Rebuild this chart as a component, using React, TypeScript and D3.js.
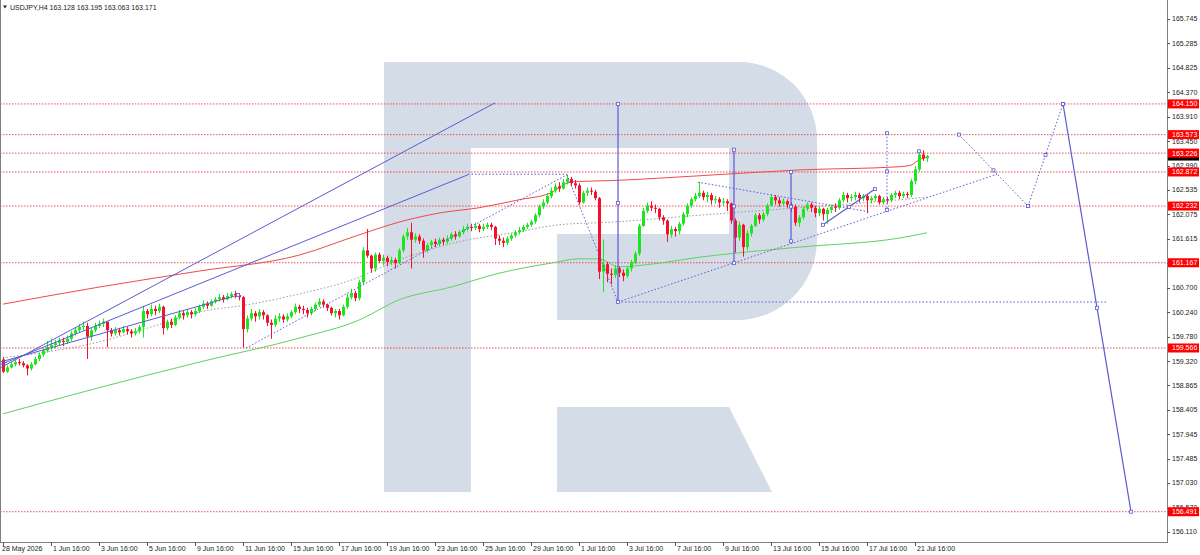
import React from 'react';
import * as d3 from 'd3';

// USDJPY H4 — candles are [high, low, close]; each bar opens at the previous close
const firstOpen = 159.35;
const lastOpen = 163.128;
const bars: [number, number, number][] = [
  [159.40, 159.10, 159.12], [159.24, 159.10, 159.20], [159.30, 159.18, 159.26], [159.34, 159.22, 159.30],
  [159.36, 159.24, 159.28], [159.32, 159.20, 159.24], [159.26, 159.05, 159.18], [159.30, 159.14, 159.26],
  [159.40, 159.24, 159.36], [159.48, 159.32, 159.44], [159.56, 159.40, 159.52], [159.70, 159.48, 159.58],
  [159.74, 159.52, 159.62], [159.72, 159.56, 159.66], [159.76, 159.62, 159.70], [159.76, 159.60, 159.68],
  [159.80, 159.64, 159.74], [159.88, 159.70, 159.84], [159.96, 159.80, 159.90], [160.02, 159.86, 159.96],
  [160.06, 159.90, 159.98], [160.04, 159.36, 159.78], [159.94, 159.70, 159.90], [160.04, 159.86, 159.98],
  [160.08, 159.94, 160.02], [160.12, 159.96, 160.06], [160.06, 159.58, 159.90], [159.94, 159.78, 159.84],
  [159.96, 159.80, 159.90], [159.94, 159.80, 159.86], [159.98, 159.84, 159.92], [159.96, 159.82, 159.88],
  [159.92, 159.76, 159.84], [159.94, 159.80, 159.88], [160.00, 159.84, 159.96], [160.36, 159.76, 160.26],
  [160.30, 160.12, 160.20], [160.38, 160.16, 160.30], [160.36, 160.18, 160.26], [160.40, 160.22, 160.34],
  [160.36, 159.82, 159.94], [160.10, 159.90, 160.06], [160.12, 159.94, 160.00], [160.18, 159.98, 160.14],
  [160.28, 160.10, 160.22], [160.26, 160.10, 160.18], [160.30, 160.14, 160.24], [160.28, 160.12, 160.20],
  [160.32, 160.16, 160.26], [160.38, 160.22, 160.34], [160.46, 160.30, 160.40], [160.44, 160.30, 160.36],
  [160.48, 160.34, 160.44], [160.52, 160.40, 160.48], [160.58, 160.44, 160.52], [160.56, 160.42, 160.48],
  [160.60, 160.46, 160.54], [160.62, 160.50, 160.58], [160.64, 160.50, 160.56], [160.60, 160.46, 160.52],
  [160.54, 159.57, 159.92], [160.18, 159.86, 160.12], [160.30, 160.08, 160.22], [160.26, 160.06, 160.16],
  [160.30, 160.10, 160.24], [160.28, 160.10, 160.18], [160.20, 159.98, 160.04], [160.10, 159.74, 160.00],
  [160.18, 159.96, 160.12], [160.22, 160.06, 160.16], [160.20, 160.04, 160.10], [160.22, 160.06, 160.16],
  [160.28, 160.12, 160.24], [160.40, 160.20, 160.34], [160.38, 160.22, 160.30], [160.36, 160.20, 160.28],
  [160.32, 160.14, 160.22], [160.34, 160.18, 160.30], [160.42, 160.26, 160.38], [160.50, 160.34, 160.44],
  [160.48, 160.32, 160.38], [160.40, 160.26, 160.32], [160.34, 160.18, 160.22], [160.30, 160.14, 160.26],
  [160.30, 160.10, 160.18], [160.38, 160.16, 160.34], [160.58, 160.30, 160.52], [160.68, 160.48, 160.60],
  [160.64, 160.44, 160.50], [160.84, 160.46, 160.80], [161.46, 160.76, 161.40], [161.80, 161.26, 161.30],
  [161.32, 160.98, 161.06], [161.36, 161.00, 161.32], [161.36, 161.16, 161.20], [161.32, 161.12, 161.26],
  [161.30, 161.10, 161.18], [161.28, 161.12, 161.22], [161.26, 161.06, 161.16], [161.44, 161.14, 161.40],
  [161.70, 161.36, 161.66], [161.82, 161.60, 161.74], [161.92, 161.06, 161.60], [161.72, 161.54, 161.66],
  [161.70, 161.52, 161.58], [161.62, 161.26, 161.40], [161.54, 161.36, 161.50], [161.60, 161.44, 161.56],
  [161.62, 161.46, 161.52], [161.64, 161.48, 161.60], [161.64, 161.50, 161.56], [161.68, 161.52, 161.62],
  [161.74, 161.58, 161.70], [161.76, 161.60, 161.66], [161.78, 161.64, 161.74], [161.86, 161.70, 161.80],
  [161.90, 161.76, 161.84], [161.90, 161.76, 161.82], [161.92, 161.78, 161.86], [161.90, 161.74, 161.80],
  [161.90, 161.76, 161.84], [161.92, 161.80, 161.88], [161.92, 161.78, 161.84], [161.86, 161.50, 161.62],
  [161.68, 161.50, 161.58], [161.64, 161.46, 161.54], [161.66, 161.50, 161.62], [161.72, 161.58, 161.68],
  [161.78, 161.64, 161.74], [161.84, 161.70, 161.78], [161.88, 161.74, 161.84], [161.92, 161.80, 161.88],
  [161.98, 161.84, 161.94], [162.10, 161.90, 162.06], [162.26, 162.02, 162.22], [162.36, 162.18, 162.30],
  [162.48, 162.26, 162.42], [162.58, 162.38, 162.52], [162.66, 162.48, 162.60], [162.68, 162.50, 162.56],
  [162.74, 162.54, 162.68], [162.82, 162.64, 162.74], [162.78, 162.60, 162.66], [162.72, 162.56, 162.62],
  [162.66, 162.26, 162.30], [162.52, 162.28, 162.48], [162.58, 162.42, 162.52], [162.58, 162.44, 162.50],
  [162.54, 162.34, 162.38], [162.40, 160.86, 161.00], [161.60, 160.62, 161.14], [161.18, 160.80, 160.96],
  [161.06, 160.76, 160.94], [161.12, 160.88, 161.06], [161.10, 160.90, 160.98], [161.04, 160.82, 160.92],
  [161.10, 160.88, 161.06], [161.22, 161.00, 161.18], [161.38, 161.14, 161.34], [161.90, 161.30, 161.86],
  [162.20, 161.84, 162.14], [162.30, 162.10, 162.24], [162.32, 162.14, 162.20], [162.26, 162.10, 162.18],
  [162.20, 161.96, 162.02], [162.06, 161.88, 161.96], [161.98, 161.56, 161.70], [161.86, 161.64, 161.80],
  [161.84, 161.66, 161.76], [161.94, 161.70, 161.90], [162.12, 161.86, 162.08], [162.28, 162.02, 162.24],
  [162.40, 162.20, 162.36], [162.48, 162.32, 162.42], [162.68, 162.38, 162.48], [162.52, 162.34, 162.40],
  [162.50, 162.30, 162.44], [162.48, 162.26, 162.34], [162.42, 162.28, 162.36], [162.40, 162.20, 162.30],
  [162.38, 162.24, 162.32], [162.36, 162.14, 162.28], [162.30, 161.90, 161.96], [162.00, 161.36, 161.64],
  [161.94, 161.58, 161.88], [161.90, 161.28, 161.46], [161.78, 161.40, 161.72], [161.90, 161.66, 161.86],
  [162.10, 161.84, 162.06], [162.10, 161.90, 161.98], [162.12, 161.94, 162.08], [162.28, 162.04, 162.24],
  [162.46, 162.22, 162.40], [162.44, 162.26, 162.34], [162.40, 162.22, 162.28], [162.38, 162.24, 162.32],
  [162.36, 162.20, 162.26], [162.30, 162.12, 162.22], [162.26, 161.86, 161.92], [162.06, 161.84, 162.02],
  [162.22, 161.98, 162.18], [162.30, 162.14, 162.26], [162.30, 162.12, 162.20], [162.24, 162.02, 162.10],
  [162.22, 162.04, 162.18], [162.20, 161.96, 162.08], [162.20, 161.90, 162.16], [162.26, 162.10, 162.22],
  [162.28, 162.12, 162.20], [162.38, 162.16, 162.34], [162.50, 162.30, 162.44], [162.48, 162.30, 162.38],
  [162.46, 162.32, 162.40], [162.50, 162.34, 162.44], [162.48, 162.30, 162.38], [162.46, 162.32, 162.42],
  [162.46, 162.10, 162.34], [162.42, 162.28, 162.38], [162.46, 162.32, 162.42], [162.44, 162.26, 162.30],
  [162.40, 162.26, 162.36], [162.40, 162.28, 162.34], [162.48, 162.30, 162.44], [162.52, 162.38, 162.48],
  [162.52, 162.36, 162.42], [162.50, 162.38, 162.46], [162.50, 162.38, 162.44], [162.74, 162.40, 162.70],
  [162.98, 162.64, 162.92], [163.26, 162.88, 163.20], [163.28, 163.08, 163.128], [163.195, 163.063, 163.171],
];

// moving averages, [bar index, price]
const maRed: [number, number][] = [
  [0, 160.39], [24, 160.71], [49, 161.01], [74, 161.31], [89, 161.69], [99, 161.93], [109, 162.10],
  [119, 162.20], [129, 162.35], [137, 162.48], [140, 162.63], [143, 162.69], [152, 162.71],
  [174, 162.80], [199, 162.91], [224, 162.97], [227, 163.00], [229, 163.10], [231, 163.15],
];
const maGreen: [number, number][] = [
  [0, 158.33], [23, 158.80], [49, 159.30], [74, 159.75], [89, 160.09], [99, 160.47], [112, 160.71],
  [124, 160.97], [137, 161.16], [144, 161.24], [149, 161.24], [154, 161.09], [162, 161.14],
  [174, 161.27], [199, 161.46], [224, 161.63], [231, 161.73],
];
const maGrey: [number, number][] = [
  [0, 159.38], [24, 159.68], [37, 159.96], [49, 160.24], [62, 160.39], [74, 160.58], [87, 160.84],
  [99, 161.22], [114, 161.56], [129, 161.75], [139, 161.88], [152, 161.93], [174, 162.06],
  [199, 162.20], [224, 162.35], [231, 162.40],
];

// analyst drawings, [bar index, price]
const solidTrends: [number, number][][] = [
  [[-0.75, 159.19], [123, 164.17]],
  [[-0.75, 159.25], [116.25, 162.82]],
  [[-0.75, 159.30], [58.75, 160.56]],
];
const dottedLines: [number, number][][] = [
  [[116.25, 162.83], [141, 162.83]],
  [[60.75, 159.566], [141, 162.82]],
  [[141, 162.82], [153.75, 160.43]],
  [[153.75, 160.43], [276.25, 160.43]],
  [[153.75, 160.43], [248.5, 162.83]],
  [[173.75, 162.68], [216.75, 162.12]],
];
const markedSolid: [number, number][][] = [
  [[153.75, 164.15], [153.75, 160.43]],
  [[182.75, 163.29], [182.75, 161.16]],
  [[197, 162.87], [197, 161.57]],
  [[205, 161.88], [218, 162.55]],
  [[265, 164.150], [282, 156.491]],
];
const markedDotted: [number, number][][] = [
  [[221, 163.60], [221, 162.16]],
  [[239, 163.573], [256.25, 162.232]],
  [[256.25, 162.232], [265, 164.150]],
];

const levels = [164.150, 163.573, 163.226, 162.872, 162.232, 161.167, 159.566, 156.491];
const bidPrice = 163.171;
const priceTicks = [
  165.745, 165.285, 164.825, 164.370, 163.910, 163.450, 162.990, 162.535, 162.075, 161.615, 161.155,
  160.700, 160.240, 159.780, 159.320, 158.865, 158.405, 157.945, 157.485, 157.030, 156.570, 156.110,
];
const timeLabels = [
  '28 May 2026', '1 Jun 16:00', '3 Jun 16:00', '5 Jun 16:00', '9 Jun 16:00', '11 Jun 16:00',
  '15 Jun 16:00', '17 Jun 16:00', '19 Jun 16:00', '23 Jun 16:00', '25 Jun 16:00', '29 Jun 16:00',
  '1 Jul 16:00', '3 Jul 16:00', '7 Jul 16:00', '9 Jul 16:00', '13 Jul 16:00', '15 Jul 16:00',
  '17 Jul 16:00', '21 Jul 16:00',
];
const BARS_PER_LABEL = 12; // two trading days of H4 bars

const W = 1200;
const H = 555;
const RIGHT = 1167;
const BOTTOM = 542;
const FONT = "'Liberation Sans', Arial, sans-serif";
const BULL = '#1ee61e';
const BEAR = '#f5102e';
const BLUE = '#5a5ad6';

const App: React.FC = () => {
  const x = d3.scaleLinear().domain([0, 231]).range([3, 927]);
  const y = d3.scaleLinear().domain([156.110, 165.745]).range([532, 19]);

  const line = d3.line<[number, number]>()
    .x(d => x(d[0]))
    .y(d => y(d[1]));
  const maLine = d3.line<[number, number]>()
    .x(d => x(d[0]))
    .y(d => y(d[1]))
    .curve(d3.curveMonotoneX);

  const candles = bars.map((b, i) => {
    const [h, l, c] = b;
    const o = i === 0 ? firstOpen : i === bars.length - 1 ? lastOpen : bars[i - 1][2];
    return { i, o, h, l, c };
  });

  const marker = (p: [number, number], key: string) => (
    <rect key={key} x={x(p[0]) - 1.5} y={y(p[1]) - 1.5} width={3} height={3}
      fill="#fff" stroke={BLUE} strokeWidth={0.8} />
  );
  const markersFor = (seg: [number, number][], k: string) => {
    const mid: [number, number] = [(seg[0][0] + seg[1][0]) / 2, (seg[0][1] + seg[1][1]) / 2];
    return [marker(seg[0], k + 'a'), marker(mid, k + 'm'), marker(seg[1], k + 'b')];
  };

  return (
    <svg width={W} height={H} style={{ position: 'absolute', left: 0, top: 0, background: '#fff', display: 'block' }}
      fontFamily={FONT}>
      <rect width={W} height={H} fill="#fff" />

      {/* watermark logo */}
      <path d="M384,62 H739 A78,78 0 0 1 817,140 V240 A80,80 0 0 1 737,320 H557 V234 H729 V148 H471 V492 H384 Z"
        fill="#d4dce7" />
      <path d="M557,407 H729 L772,492 H557 Z" fill="#d4dce7" />

      {/* support / resistance levels */}
      {levels.map(v => (
        <line key={'lv' + v} x1={0} x2={RIGHT} y1={y(v)} y2={y(v)}
          stroke="#f0303c" strokeWidth={1} strokeDasharray="1.5,1.5" opacity={0.85} />
      ))}

      {/* moving averages */}
      <path d={maLine(maGreen) || ''} fill="none" stroke="#62d062" strokeWidth={1} />
      <path d={maLine(maRed) || ''} fill="none" stroke="#f04a4a" strokeWidth={1} />
      <path d={maLine(maGrey) || ''} fill="none" stroke="#9a9a9a" strokeWidth={1} strokeDasharray="1.5,2" />

      {/* candles */}
      {candles.map(d => {
        const cx = Math.round(x(d.i)) + 0.5;
        const col = d.c >= d.o ? BULL : BEAR;
        const top = y(Math.max(d.o, d.c));
        const bot = y(Math.min(d.o, d.c));
        return (
          <g key={'c' + d.i}>
            <line x1={cx} x2={cx} y1={y(d.h)} y2={y(d.l)} stroke={col} strokeWidth={1} />
            <rect x={cx - 1.5} y={top} width={3} height={Math.max(1, bot - top)} fill={col} />
          </g>
        );
      })}

      {/* trend drawings */}
      {solidTrends.map((s, k) => (
        <path key={'st' + k} d={line(s) || ''} fill="none" stroke={BLUE} strokeWidth={1} />
      ))}
      {dottedLines.map((s, k) => (
        <path key={'dl' + k} d={line(s) || ''} fill="none" stroke={BLUE} strokeWidth={1} strokeDasharray="1.5,2" />
      ))}
      {markedSolid.map((s, k) => (
        <g key={'ms' + k}>
          <path d={line(s) || ''} fill="none" stroke={BLUE} strokeWidth={1.2} />
          {markersFor(s, 'ms' + k)}
        </g>
      ))}
      {markedDotted.map((s, k) => (
        <g key={'md' + k}>
          <path d={line(s) || ''} fill="none" stroke={BLUE} strokeWidth={1} strokeDasharray="1.5,2" />
          {markersFor(s, 'md' + k)}
        </g>
      ))}
      {marker([58.75, 160.56], 'endC')}
      {marker([229, 163.26], 'lastTop')}

      {/* frame */}
      <line x1={0.5} x2={0.5} y1={0} y2={BOTTOM} stroke="#808080" />
      <line x1={0} x2={RIGHT} y1={BOTTOM + 0.5} y2={BOTTOM + 0.5} stroke="#808080" />
      <line x1={RIGHT + 0.5} x2={RIGHT + 0.5} y1={0} y2={BOTTOM + 1} stroke="#808080" />

      {/* price axis */}
      {priceTicks.map(v => (
        <g key={'pt' + v}>
          <line x1={RIGHT} x2={RIGHT + 3} y1={Math.round(y(v)) + 0.5} y2={Math.round(y(v)) + 0.5} stroke="#555" />
          <text x={1172} y={y(v)} dy="0.35em" fontSize={7} fill="#222">{v.toFixed(3)}</text>
        </g>
      ))}
      <rect x={RIGHT + 1} y={y(bidPrice) - 4.5} width={31} height={9} fill="#000" />
      {levels.map(v => (
        <g key={'lb' + v}>
          <rect x={RIGHT + 1} y={y(v) - 4.5} width={31} height={9} fill="#ff0000" />
          <text x={1172} y={y(v)} dy="0.35em" fontSize={7} fill="#fff">{v.toFixed(3)}</text>
        </g>
      ))}

      {/* time axis */}
      {timeLabels.map((t, k) => {
        const tx = Math.round(x(k * BARS_PER_LABEL)) + 0.5;
        return (
          <g key={'tl' + k}>
            <line x1={tx} x2={tx} y1={BOTTOM} y2={BOTTOM + 4} stroke="#555" />
            <text x={k === 0 ? 2 : tx + 1.5} y={551} fontSize={7} fill="#222">{t}</text>
          </g>
        );
      })}

      {/* title */}
      <path d="M3,5.5 L7,5.5 L5,8.5 Z" fill="#222" />
      <text x={10} y={9.5} fontSize={7} fill="#222">USDJPY,H4  163.128 163.195 163.063 163.171</text>
    </svg>
  );
};

export default App;
